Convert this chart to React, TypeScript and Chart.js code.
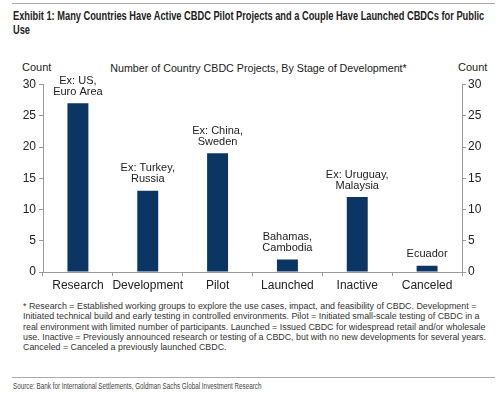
import React, { useEffect, useRef } from "react";
import { Chart, registerables } from "chart.js";
Chart.register(...registerables);

const categories = ["Research", "Development", "Pilot", "Launched", "Inactive", "Canceled"];
const projectCounts = [27, 13, 19, 2, 12, 1];
const barNotes: string[][] = [
  ["Ex: US,", "Euro Area"],
  ["Ex: Turkey,", "Russia"],
  ["Ex: China,", "Sweden"],
  ["Bahamas,", "Cambodia"],
  ["Ex: Uruguay,", "Malaysia"],
  ["Ecuador"],
];
const yMin = 0;
const yMax = 30;
const yStep = 5;

const titleLines = [
  "Exhibit 1: Many Countries Have Active CBDC Pilot Projects and a Couple Have Launched CBDCs for Public",
  "Use",
];
const subtitleText = "Number of Country CBDC Projects, By Stage of Development*";
const footnoteLines = [
  "* Research = Established working groups to explore the use cases, impact, and feasibility of CBDC. Development =",
  "Initiated technical build and early testing in controlled environments. Pilot = Initiated small-scale testing of CBDC in a",
  "real environment with limited number of participants. Launched = Issued CBDC for widespread retail and/or wholesale",
  "use. Inactive = Previously announced research or testing of a CBDC, but with no new developments for several years.",
  "Canceled = Canceled a previously launched CBDC.",
];
const sourceText = "Source: Bank for International Settlements, Goldman Sachs Global Investment Research";

const ARIAL = '"Liberation Sans", Arial, sans-serif';

function Squeezed(props: { text: string; scale: number; style: React.CSSProperties }) {
  return (
    <div style={{ ...props.style, whiteSpace: "nowrap", transform: `scaleX(${props.scale})`, transformOrigin: "0 0" }}>
      {props.text}
    </div>
  );
}

export default function App() {
  const ref = useRef<HTMLCanvasElement | null>(null);

  useEffect(() => {
    if (!ref.current) return;
    const notesPlugin = {
      id: "barNotes",
      afterDatasetsDraw(chart: any) {
        const ctx = chart.ctx;
        const meta = chart.getDatasetMeta(0);
        ctx.save();
        ctx.font = `11px ${ARIAL}`;
        ctx.fillStyle = "#222";
        ctx.textAlign = "center";
        ctx.textBaseline = "middle";
        meta.data.forEach((bar: any, i: number) => {
          const lines = barNotes[i] || [];
          lines.forEach((line, j) => {
            const y = bar.y - 11.5 - (lines.length - 1 - j) * 11;
            ctx.fillText(line, bar.x, y);
          });
        });
        ctx.restore();
      },
    };
    const tickFont = { family: ARIAL, size: 12 };
    const chart = new Chart(ref.current, {
      type: "bar",
      data: {
        labels: categories,
        datasets: [
          {
            data: projectCounts,
            backgroundColor: "#0b3563",
            borderWidth: 0,
            barPercentage: 0.3,
            categoryPercentage: 1,
            yAxisID: "y",
          },
        ],
      },
      options: {
        animation: false,
        responsive: false,
        devicePixelRatio: 1,
        layout: { padding: { top: 29.5, left: 0, right: 0, bottom: 0 } },
        plugins: { legend: { display: false }, tooltip: { enabled: false }, title: { display: false } },
        scales: {
          x: {
            grid: { display: true, drawOnChartArea: false, drawTicks: true, tickLength: 4, color: "#999", offset: true },
            border: { display: true, color: "#999" },
            ticks: { color: "#222", font: tickFont, padding: 2, maxRotation: 0, autoSkip: false },
            afterFit: (s: any) => { s.height = 28; },
          },
          y: {
            position: "left",
            min: yMin,
            max: yMax,
            grid: { display: true, drawOnChartArea: false, drawTicks: true, tickLength: 4, color: "#999" },
            border: { display: true, color: "#999" },
            ticks: { stepSize: yStep, color: "#222", font: tickFont, padding: 3 },
            afterFit: (s: any) => { s.width = 43; },
          },
          y2: {
            position: "right",
            min: yMin,
            max: yMax,
            grid: { display: true, drawOnChartArea: false, drawTicks: true, tickLength: 4, color: "#999" },
            border: { display: true, color: "#999" },
            ticks: { stepSize: yStep, color: "#222", font: tickFont, padding: 2 },
            afterFit: (s: any) => { s.width = 38; },
          },
        },
      },
      plugins: [notesPlugin],
    } as any);
    return () => chart.destroy();
  }, []);

  return (
    <div style={{ position: "absolute", left: 0, top: 0, width: 500, height: 393, background: "#fff", overflow: "hidden" }}>
      <div style={{ position: "absolute", left: 12, top: 3, width: 483, height: 1, background: "#aaa" }} />
      <Squeezed
        text={titleLines[0]}
        scale={0.772}
        style={{ position: "absolute", left: 13, top: 9, fontFamily: ARIAL, fontWeight: "bold", fontSize: 12, lineHeight: "14px", color: "#222" }}
      />
      <Squeezed
        text={titleLines[1]}
        scale={0.772}
        style={{ position: "absolute", left: 13, top: 22.5, fontFamily: ARIAL, fontWeight: "bold", fontSize: 12, lineHeight: "14px", color: "#222" }}
      />
      <div style={{ position: "absolute", left: 22, top: 61, fontFamily: ARIAL, fontSize: 11, color: "#222" }}>Count</div>
      <div style={{ position: "absolute", left: 458, top: 61, fontFamily: ARIAL, fontSize: 11, color: "#222" }}>Count</div>
      <div style={{ position: "absolute", left: 0, width: 517, textAlign: "center", top: 61.5, fontFamily: ARIAL, fontSize: 10.7, color: "#222" }}>
        {subtitleText}
      </div>
      <canvas ref={ref} width={500} height={245} style={{ position: "absolute", left: 0, top: 55, width: 500, height: 245 }} />
      <div
        style={{
          position: "absolute",
          left: 23,
          top: 301,
          fontFamily: ARIAL,
          fontSize: 8.9,
          lineHeight: "10.3px",
          color: "#333",
          whiteSpace: "nowrap",
        }}
      >
        {footnoteLines.map((l, i) => (
          <div key={i}>{l}</div>
        ))}
      </div>
      <div style={{ position: "absolute", left: 12, top: 377, width: 483, height: 1, background: "#aaa" }} />
      <Squeezed
        text={sourceText}
        scale={0.743}
        style={{ position: "absolute", left: 13, top: 381, fontFamily: ARIAL, fontSize: 8.5, lineHeight: "11px", color: "#444" }}
      />
    </div>
  );
}
